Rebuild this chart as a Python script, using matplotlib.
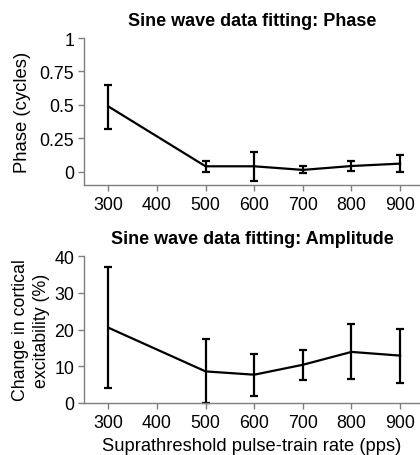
import numpy as np
import matplotlib
matplotlib.use("Agg")
import matplotlib.pyplot as plt

# --- data ---
rates = [300, 500, 600, 700, 800, 900]

phase = [0.488, 0.040, 0.040, 0.013, 0.042, 0.060]
phase_lo = [0.321, -0.002, -0.067, -0.007, 0.002, 0.000]
phase_hi = [0.652, 0.082, 0.149, 0.040, 0.082, 0.122]

amp = [20.5, 8.6, 7.7, 10.4, 13.9, 12.9]
amp_lo = [4.2, 0.0, 2.0, 6.3, 6.5, 5.5]
amp_hi = [37.1, 17.3, 13.4, 14.4, 21.4, 20.2]

xticks = [300, 400, 500, 600, 700, 800, 900]
phase_ticks = [0, 0.25, 0.5, 0.75, 1]
phase_ticklabels = ["0", "0.25", "0.5", "0.75", "1"]
amp_ticks = [0, 10, 20, 30, 40]

plt.rcParams["font.family"] = ["Liberation Sans", "DejaVu Sans"]
FS = 12.8
GREY = "#7f7f7f"

fig = plt.figure(figsize=(4.2, 4.56), dpi=100)
W, H = 420, 456


def make_ax(top_px, bottom_px):
    left, right = 84, 420
    return fig.add_axes([left / W, (H - bottom_px) / H,
                         (right - left) / W, (bottom_px - top_px) / H])


def style(ax):
    for s in ["top", "right"]:
        ax.spines[s].set_visible(False)
    for s in ["left", "bottom"]:
        ax.spines[s].set_color(GREY)
        ax.spines[s].set_linewidth(1.0)
    ax.tick_params(direction="out", length=4, width=1.0, color=GREY,
                   labelsize=FS, pad=3)
    ax.tick_params(axis="x", pad=4)
    ax.set_xlim(250, 941)
    ax.set_xticks(xticks)


def draw(ax, y, lo, hi):
    y = np.array(y)
    err = [y - np.array(lo), np.array(hi) - y]
    ax.errorbar(rates, y, yerr=err, color="black", lw=1.6,
                elinewidth=1.6, capsize=2.7, capthick=1.6, clip_on=False)


# top panel: phase
ax1 = make_ax(39, 186)
style(ax1)
draw(ax1, phase, phase_lo, phase_hi)
ax1.set_ylim(-0.1, 1)
ax1.set_yticks(phase_ticks)
ax1.set_yticklabels(phase_ticklabels)
ax1.set_ylabel("Phase (cycles)", fontsize=13.3, labelpad=6)
ax1.set_title("Sine wave data fitting: Phase", fontsize=13,
              fontweight="bold", pad=9)

# bottom panel: amplitude
ax2 = make_ax(257, 404)
style(ax2)
draw(ax2, amp, amp_lo, amp_hi)
ax2.set_ylim(0, 40)
ax2.set_yticks(amp_ticks)
ax2.set_ylabel("Change in cortical\nexcitability (%)", fontsize=FS,
               labelpad=3, linespacing=1.3)
ax2.set_xlabel("Suprathreshold pulse-train rate (pps)", fontsize=13.2,
               labelpad=4)
ax2.set_title("Sine wave data fitting: Amplitude", fontsize=13,
              fontweight="bold", pad=9)

fig.savefig("out.png", dpi=100)
